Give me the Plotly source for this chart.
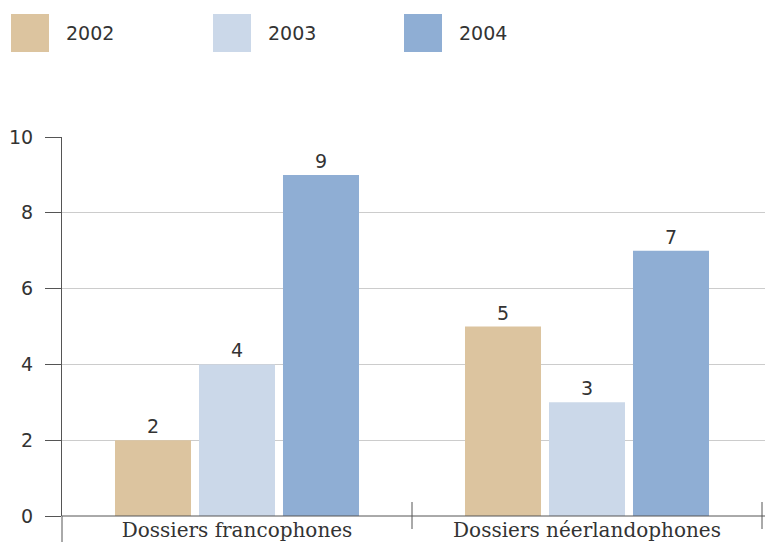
import plotly.graph_objects as go

categories = ["Dossiers francophones", "Dossiers néerlandophones"]
series_names = ["2002", "2003", "2004"]
values_2002 = [2, 5]
values_2003 = [4, 3]
values_2004 = [9, 7]
colors = ["#DCC49F", "#CBD8E9", "#8FAED4"]
y_ticks = [0, 2, 4, 6, 8, 10]

W, H = 765, 542
ML, MR, MT, MB = 62, 0, 137, 26
PW, PH = W - ML - MR, H - MT - MB
CAT_W = 350.0  # pixels per category
x_range = [-0.5, -0.5 + PW / CAT_W]

def px(x):
    return (x - ML) / PW

def py(y):
    return (H - MB - y) / PH

TXT = "#333333"
fig = go.Figure()
for name, vals, col in zip(series_names, [values_2002, values_2003, values_2004], colors):
    fig.add_trace(go.Bar(
        x=categories, y=vals, name=name, marker=dict(color=col, line=dict(width=0)),
        text=[str(v) for v in vals], textposition="outside", cliponaxis=False,
        textfont=dict(family="DejaVu Sans", size=19, color=TXT), showlegend=False,
        hoverinfo="skip",
    ))

shapes = []
annotations = []
# manual legend
sw_x = [11, 213, 404]
for i, (name, col) in enumerate(zip(series_names, colors)):
    x0 = sw_x[i]
    shapes.append(dict(type="rect", xref="paper", yref="paper",
                       x0=px(x0), x1=px(x0 + 38), y0=py(52), y1=py(14),
                       fillcolor=col, line=dict(width=0)))
    annotations.append(dict(xref="paper", yref="paper", x=px(x0 + 53), y=py(33),
                            text=name, showarrow=False, xanchor="left", yanchor="middle",
                            font=dict(family="DejaVu Sans", size=19, color=TXT)))

# y axis line extension below zero
shapes.append(dict(type="line", xref="paper", yref="paper", x0=0, x1=0,
                   y0=0, y1=py(542), line=dict(color="#555555", width=1)))
# category boundary ticks
for xb in [0.5, 1.5]:
    shapes.append(dict(type="line", xref="x", yref="paper", x0=xb, x1=xb,
                       y0=py(529), y1=py(502), line=dict(color="#555555", width=1)))
# x axis line
shapes.append(dict(type="line", xref="paper", yref="paper", x0=0, x1=1,
                   y0=0, y1=0, line=dict(color="#555555", width=1)))

fig.update_layout(
    width=W, height=H,
    margin=dict(l=ML, r=MR, t=MT, b=MB),
    plot_bgcolor="white", paper_bgcolor="white",
    barmode="group", bargap=0.28, bargroupgap=0.095,
    shapes=shapes, annotations=annotations,
    font=dict(family="DejaVu Sans", size=19, color=TXT),
)
fig.update_yaxes(range=[0, 10], tickvals=y_ticks, showgrid=True, gridcolor="#CCCCCC",
                 gridwidth=1, ticks="outside", ticklen=16, tickcolor="#555555",
                 showline=True, linecolor="#555555", linewidth=1, zeroline=False,
                 ticklabelstandoff=8,
                 tickfont=dict(family="DejaVu Sans", size=19, color=TXT))
fig.update_xaxes(range=x_range, showline=False, ticks="", showgrid=False,
                 tickfont=dict(family="DejaVu Serif", size=20, color=TXT))

fig.write_html("out.html", config={"displayModeBar": False},
               post_script="document.body.style.margin='0';document.body.style.overflow='hidden';")
